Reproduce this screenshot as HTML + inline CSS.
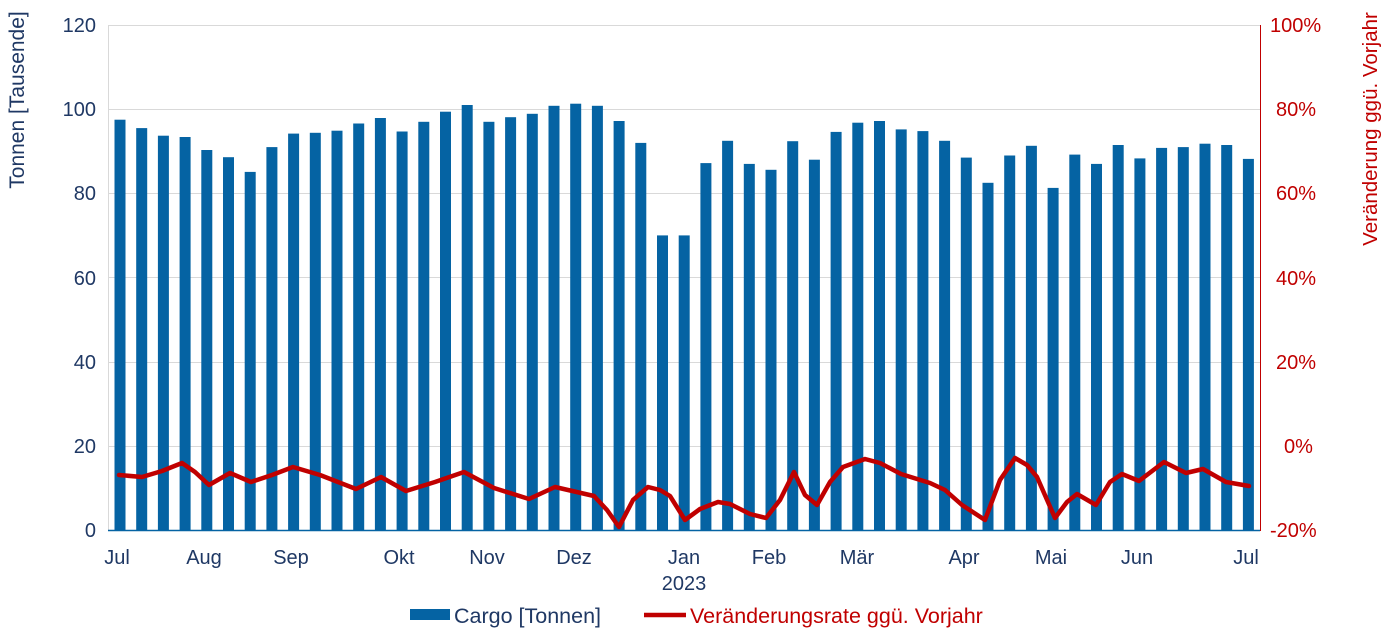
<!DOCTYPE html>
<html><head><meta charset="utf-8"><style>
body{margin:0;background:#fff;}
svg text{font-family:"Liberation Sans",Arial,sans-serif;}
</style></head><body>
<svg width="1388" height="634" xmlns="http://www.w3.org/2000/svg">
<g stroke="#d9d9d9" stroke-width="1">
<line x1="108" x2="1260" y1="25.5" y2="25.5"/>
<line x1="108" x2="1260" y1="109.5" y2="109.5"/>
<line x1="108" x2="1260" y1="193.5" y2="193.5"/>
<line x1="108" x2="1260" y1="277.5" y2="277.5"/>
<line x1="108" x2="1260" y1="362.5" y2="362.5"/>
<line x1="108" x2="1260" y1="446.5" y2="446.5"/>
</g>
<g fill="#0563a3">
<rect x="114.5" y="119.7" width="11" height="410.3"/>
<rect x="136.2" y="128.1" width="11" height="401.9"/>
<rect x="157.9" y="135.7" width="11" height="394.3"/>
<rect x="179.6" y="137.0" width="11" height="393.0"/>
<rect x="201.3" y="150.0" width="11" height="380.0"/>
<rect x="223.0" y="157.2" width="11" height="372.8"/>
<rect x="244.7" y="171.9" width="11" height="358.1"/>
<rect x="266.4" y="147.1" width="11" height="382.9"/>
<rect x="288.1" y="133.6" width="11" height="396.4"/>
<rect x="309.8" y="132.8" width="11" height="397.2"/>
<rect x="331.5" y="130.7" width="11" height="399.3"/>
<rect x="353.2" y="123.5" width="11" height="406.5"/>
<rect x="374.9" y="118.0" width="11" height="412.0"/>
<rect x="396.6" y="131.5" width="11" height="398.5"/>
<rect x="418.3" y="121.8" width="11" height="408.2"/>
<rect x="440.0" y="111.7" width="11" height="418.3"/>
<rect x="461.7" y="105.0" width="11" height="425.0"/>
<rect x="483.4" y="121.8" width="11" height="408.2"/>
<rect x="505.1" y="117.2" width="11" height="412.8"/>
<rect x="526.8" y="113.8" width="11" height="416.2"/>
<rect x="548.5" y="105.8" width="11" height="424.2"/>
<rect x="570.2" y="103.7" width="11" height="426.3"/>
<rect x="591.9" y="105.8" width="11" height="424.2"/>
<rect x="613.6" y="121.0" width="11" height="409.0"/>
<rect x="635.3" y="142.9" width="11" height="387.1"/>
<rect x="657.0" y="235.4" width="11" height="294.6"/>
<rect x="678.7" y="235.4" width="11" height="294.6"/>
<rect x="700.4" y="163.1" width="11" height="366.9"/>
<rect x="722.1" y="140.8" width="11" height="389.2"/>
<rect x="743.8" y="163.9" width="11" height="366.1"/>
<rect x="765.5" y="169.8" width="11" height="360.2"/>
<rect x="787.2" y="141.2" width="11" height="388.8"/>
<rect x="808.9" y="159.7" width="11" height="370.3"/>
<rect x="830.6" y="131.9" width="11" height="398.1"/>
<rect x="852.3" y="122.7" width="11" height="407.3"/>
<rect x="874.0" y="121.0" width="11" height="409.0"/>
<rect x="895.7" y="129.4" width="11" height="400.6"/>
<rect x="917.4" y="131.1" width="11" height="398.9"/>
<rect x="939.1" y="140.8" width="11" height="389.2"/>
<rect x="960.8" y="157.6" width="11" height="372.4"/>
<rect x="982.5" y="182.8" width="11" height="347.2"/>
<rect x="1004.2" y="155.5" width="11" height="374.5"/>
<rect x="1025.9" y="145.8" width="11" height="384.2"/>
<rect x="1047.6" y="187.9" width="11" height="342.1"/>
<rect x="1069.3" y="154.6" width="11" height="375.4"/>
<rect x="1091.0" y="163.9" width="11" height="366.1"/>
<rect x="1112.7" y="145.0" width="11" height="385.0"/>
<rect x="1134.4" y="158.4" width="11" height="371.6"/>
<rect x="1156.1" y="147.9" width="11" height="382.1"/>
<rect x="1177.8" y="147.1" width="11" height="382.9"/>
<rect x="1199.5" y="143.7" width="11" height="386.3"/>
<rect x="1221.2" y="145.0" width="11" height="385.0"/>
<rect x="1242.9" y="158.9" width="11" height="371.1"/>
</g>
<line x1="108.5" y1="25" x2="108.5" y2="531" stroke="#d9d9d9"/>
<line x1="1260.5" y1="25" x2="1260.5" y2="531" stroke="#c00000"/>
<line x1="108" y1="530.5" x2="1260" y2="530.5" stroke="#0563a3" stroke-width="1.5"/>
<polyline fill="none" stroke="#c00000" stroke-width="4.5" stroke-linejoin="round" stroke-linecap="round" points="119,475 142,477 162,471 182,463 195,472 209,485 230,473 251,482 272,475 293,467 320,475 356,489 381,477 406,491 435,482 464,472 494,488 529,499 555,487 594,496 607,510 619,527 633,500 648,487 660,490 670,496 685,520 700,509 718,502 730,504 750,514 766,518 780,500 794,472 805,495 817,505 830,482 843,467 865,459 880,463 901,474 930,483 945,490 962,505 985,520 1000,480 1015,458 1027,465 1037,477 1055,518 1067,502 1077,494 1096,505 1110,482 1122,474 1139,481 1164,462 1186,473 1203,469 1226,482 1249,486"/>
<g font-size="20" fill="#1f3864" text-anchor="end">
<text x="96" y="32">120</text><text x="96" y="116">100</text><text x="96" y="200">80</text>
<text x="96" y="285">60</text><text x="96" y="369">40</text><text x="96" y="453">20</text><text x="96" y="537">0</text>
</g>
<g font-size="20" fill="#c00000">
<text x="1270" y="32">100%</text><text x="1276" y="116">80%</text><text x="1276" y="200">60%</text>
<text x="1276" y="285">40%</text><text x="1276" y="369">20%</text><text x="1284" y="453">0%</text><text x="1270" y="537">-20%</text>
</g>
<g font-size="20" fill="#1f3864" text-anchor="middle">
<text x="117" y="564">Jul</text><text x="204" y="564">Aug</text><text x="291" y="564">Sep</text>
<text x="399" y="564">Okt</text><text x="487" y="564">Nov</text><text x="574" y="564">Dez</text>
<text x="684" y="564">Jan</text><text x="684" y="590">2023</text><text x="769" y="564">Feb</text>
<text x="857" y="564">Mär</text><text x="964" y="564">Apr</text><text x="1051" y="564">Mai</text>
<text x="1137" y="564">Jun</text><text x="1246" y="564">Jul</text>
</g>
<text transform="translate(24,100) rotate(-90)" font-size="21" fill="#1f3864" text-anchor="middle">Tonnen [Tausende]</text>
<text transform="translate(1377,129) rotate(-90)" font-size="20.5" fill="#c00000" text-anchor="middle">Veränderung ggü. Vorjahr</text>
<rect x="410" y="609" width="40" height="11" fill="#0563a3"/>
<text x="454" y="623" font-size="21.5" fill="#1f3864">Cargo [Tonnen]</text>
<line x1="644" y1="615" x2="686" y2="615" stroke="#c00000" stroke-width="4.5"/>
<text x="690" y="623" font-size="21.5" fill="#c00000">Veränderungsrate ggü. Vorjahr</text>
</svg>
</body></html>
